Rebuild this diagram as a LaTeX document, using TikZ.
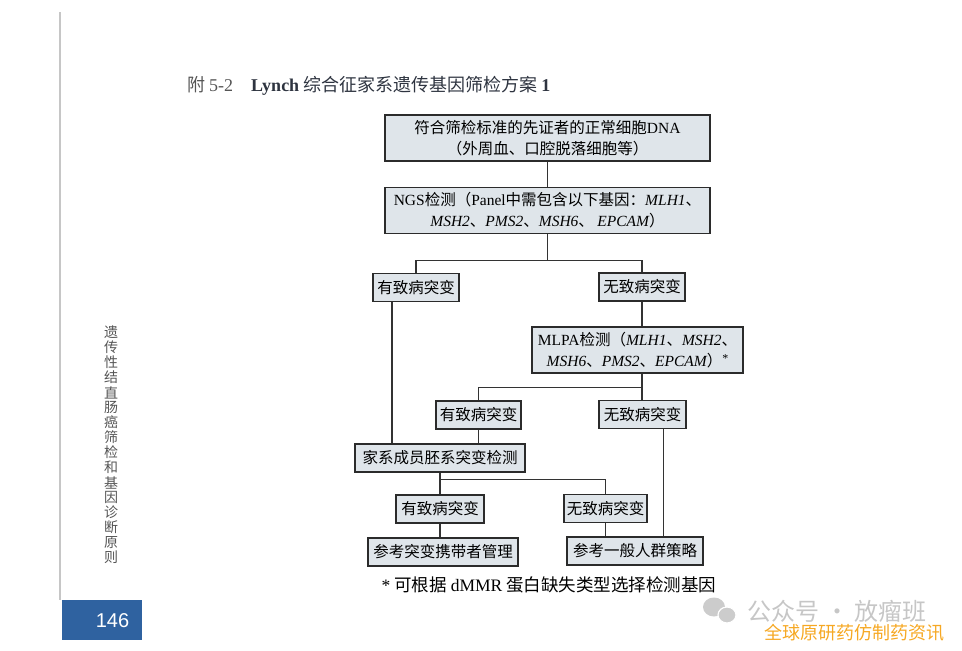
\documentclass[tikz,border=0pt]{standalone}
\usepackage{fontspec}
\setmainfont{Noto Sans CJK SC}
\newfontfamily\latfont{Liberation Serif}
\newfontfamily\pagefont{Liberation Sans}
\newcommand\lat[1]{{\latfont #1}}
\newcommand\gene[1]{{\latfont\itshape #1}}
\usetikzlibrary{calc}
\definecolor{boxfill}{HTML}{DFE5EA}
\definecolor{boxline}{HTML}{2B2B2B}
\definecolor{linecol}{HTML}{333333}
\definecolor{pageblue}{HTML}{2F62A0}
\definecolor{titlegray}{HTML}{555555}
\definecolor{titledark}{HTML}{2E3440}
\definecolor{markorange}{HTML}{F6A823}

\begin{document}
\begin{tikzpicture}[x=1pt,y=-1pt,every node/.style={align=center,inner sep=0pt},
  box/.style={draw=boxline,fill=boxfill,line width=1.5pt,font=\fontsize{15.5}{21}\selectfont,minimum height=28pt},
  wide/.style={box,minimum width=325pt,minimum height=46pt},
  link/.style={draw=linecol,line width=1.3pt}]
\useasboundingbox (0,0) rectangle (962,651);
% page
\draw [gray!45,line width=2pt] (60,12) -- (60,600);
\node [fill=pageblue,minimum width=80pt,minimum height=40pt] (page) at (102,620) {};
\node [text=white,font=\pagefont\fontsize{20}{20}\selectfont] (pnum) at (112.5,621) {146};
\foreach \c [count=\i] in {遗,传,性,结,直,肠,癌,筛,检,和,基,因,诊,断,原,则}
  \node [text=titlegray,font=\fontsize{14}{14}\selectfont] (side\i) at (111,317.5+15*\i) {\c};
\node [anchor=west,text=titlegray,font=\fontsize{18}{18}\selectfont] (title) at (187,86)
  {附 \lat{5-2}\quad\textcolor{titledark}{{\latfont\bfseries Lynch} 综合征家系遗传基因筛检方案 {\latfont\bfseries 1}}};
% boxes
\node [wide] (top) at (547.5,138) {符合筛检标准的先证者的正常细胞\lat{DNA}\\（外周血、口腔脱落细胞等）};
\node [wide] (ngs) at (547.5,210.5) {\lat{NGS}检测（\lat{Panel}中需包含以下基因：\gene{MLH1}、\\\gene{MSH2}、\gene{PMS2}、\gene{MSH6}、 \gene{EPCAM}）};
\node [box,minimum width=86pt] (yes1) at (416,287.5) {有致病突变};
\node [box,minimum width=86pt] (no1) at (642,287) {无致病突变};
\node [box,minimum width=211pt,minimum height=46pt] (mlpa) at (637.5,350) {\lat{MLPA}检测（\gene{MLH1}、\gene{MSH2}、\\\gene{MSH6}、\gene{PMS2}、\gene{EPCAM}）\raisebox{4pt}{\lat{\fontsize{12}{12}\selectfont *}}};
\node [box,minimum width=85pt] (yes2) at (478.5,415) {有致病突变};
\node [box,minimum width=87pt] (no2) at (642.5,414.5) {无致病突变};
\node [box,minimum width=170pt] (fam) at (440,458) {家系成员胚系突变检测};
\node [box,minimum width=88pt] (yes3) at (440,509) {有致病突变};
\node [box,minimum width=83pt] (no3) at (605.5,508.5) {无致病突变};
\node [box,minimum width=150pt] (carrier) at (443,552) {参考突变携带者管理};
\node [box,minimum width=136pt] (general) at (635,551) {参考一般人群策略};
\node [font=\fontsize{17.5}{17.5}\selectfont] (note) at (549,585) {\lat{*} 可根据 \lat{dMMR} 蛋白缺失类型选择检测基因};
% connectors
\coordinate (j1) at ($(ngs.south)+(0,26)$);
\coordinate (j2) at ($(no1.south |- mlpa.south)+(0,14)$);
\coordinate (j3) at ($(fam.south)+(0,7)$);
\draw [link] (top.south) -- (ngs.north)
      (ngs.south) -- (j1)
      (yes1.north) -- (yes1.north |- j1) -- (no1.north |- j1) -- (no1.north)
      (no1.south) -- (no1.south |- mlpa.north)
      ([xshift=-24pt]yes1.south) -- ([xshift=-24pt]yes1.south |- fam.north)
      (no1.south |- mlpa.south) -- (j2) -- (j2 -| yes2.north) -- (yes2.north)
      (j2) -- (j2 |- no2.north)
      (yes2.south) -- (yes2.south |- fam.north)
      ([xshift=21pt]no2.south) -- ([xshift=21pt]no2.south |- general.north)
      (fam.south) -- (j3) -- (j3 -| no3.north) -- (no3.north)
      (j3) -- (yes3.north)
      (yes3.south) -- (yes3.south |- carrier.north)
      (no3.south) -- (no3.south |- general.north)
;
% watermark
\fill [gray!40] (714,607) ellipse (11 and 9.5);
\fill [gray!40,draw=white,line width=1.2pt] (727,615) ellipse (9 and 8);
\node [text=gray!45,font=\fontsize{24}{24}\selectfont] (wm) at (837,611) {公众号 · 放瘤班};
\node [text=markorange,font=\fontsize{18}{18}\selectfont] (wm2) at (854,633) {全球原研药仿制药资讯};
\end{tikzpicture}
\end{document}
